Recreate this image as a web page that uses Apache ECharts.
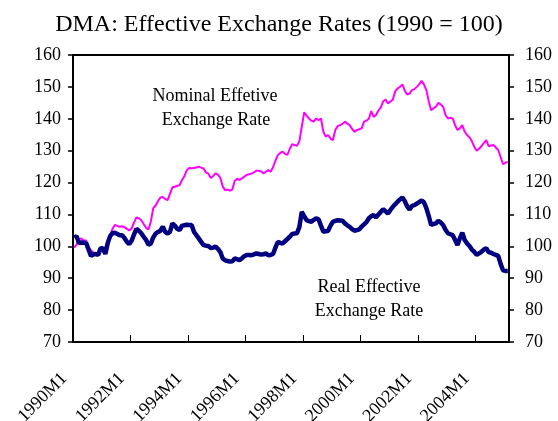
<!DOCTYPE html>
<html>
<head>
<meta charset="utf-8">
<title>DMA: Effective Exchange Rates</title>
<script src="https://cdn.jsdelivr.net/npm/echarts@6/dist/echarts.min.js"></script>
<style>
	html, body { margin: 0; padding: 0; background: #fff; }
	#mychart { width: 558px; height: 421px; }
</style>
</head>
<body>
<div id="mychart"></div>
<script>
// monthly data, 1990M1 .. 2005M2 (1990 = 100)
var startYear = 1990;
var nominalRate = [
	99.6, 100.5, 102.2, 102.5, 101.8, 101.8, 99.5, 98.8, 98.0, 97.6, 97.2, 98.8,
	98.3, 99.8, 102.0, 103.5, 105.5, 106.7, 106.4, 106.1, 106.3, 106.0, 105.5, 105.0,
	105.6, 107.5, 109.1, 108.8, 108.2, 107.0, 105.8, 105.3, 107.8, 112.0, 112.8, 114.2,
	115.3, 115.5, 114.8, 114.5, 116.5, 118.5, 118.7, 119.0, 119.2, 120.8, 122.0, 123.8,
	124.6, 124.5, 124.6, 124.7, 125.0, 124.7, 124.4, 123.2, 122.8, 121.4, 122.0, 122.9,
	122.5, 121.5, 118.8, 117.6, 117.8, 117.5, 117.8, 120.5, 121.2, 120.8, 121.3, 121.8,
	122.4, 122.6, 122.8, 123.2, 123.7, 123.7, 123.5, 122.9, 123.4, 123.9, 123.4, 124.8,
	126.8, 128.6, 129.3, 129.7, 129.0, 128.7, 130.6, 132.0, 131.8, 131.5, 133.0, 137.5,
	142.0, 141.0, 140.1, 139.4, 139.1, 140.1, 139.6, 140.1, 136.0, 134.4, 134.9, 133.8,
	133.3, 136.5, 137.7, 138.0, 138.4, 139.1, 138.5, 138.0, 136.8, 135.9, 136.5, 136.7,
	137.0, 139.1, 139.4, 140.0, 142.4, 140.6, 141.2, 142.6, 143.6, 145.5, 146.0, 144.8,
	145.4, 146.0, 148.6, 149.5, 150.0, 150.8, 148.8, 147.6, 147.9, 149.0, 149.3, 150.0,
	150.8, 151.9, 150.8, 149.0, 145.5, 142.7, 143.3, 143.8, 145.0, 144.5, 143.8, 141.2,
	140.1, 140.3, 140.1, 138.0, 136.5, 137.0, 138.0, 136.0, 134.9, 134.2, 133.0, 131.2,
	130.0, 130.6, 131.4, 132.4, 133.3, 131.4, 131.6, 131.8, 131.0, 130.2, 128.0, 125.8,
	126.2, 126.5
];
var realRate = [
	102.8, 103.2, 101.0, 101.2, 101.1, 101.0, 99.0, 97.0, 97.5, 97.6, 97.3, 99.4,
	99.4, 97.6, 101.0, 103.2, 104.1, 104.3, 103.9, 103.5, 103.5, 102.6, 101.4, 100.7,
	101.8, 103.8, 105.5, 104.9, 104.1, 103.0, 102.0, 100.5, 100.9, 102.8, 104.0, 104.5,
	104.9, 106.2, 104.5, 104.0, 104.6, 107.2, 106.5, 105.5, 105.1, 106.5, 106.6, 106.8,
	106.7, 106.7, 104.6, 103.5, 102.5, 101.4, 100.4, 100.2, 100.1, 99.5, 99.6, 99.9,
	99.2, 98.2, 96.2, 95.6, 95.4, 95.2, 95.3, 96.2, 96.0, 95.7, 96.2, 96.9,
	97.3, 97.3, 97.2, 97.5, 97.8, 97.6, 97.4, 97.5, 97.8, 97.2, 97.3, 97.6,
	99.6, 101.4, 101.1, 100.9, 101.6, 102.3, 103.0, 103.9, 104.0, 104.1, 106.1, 110.8,
	109.5, 108.2, 107.9, 107.7, 108.3, 108.8, 108.5, 106.5, 104.6, 104.7, 104.9, 106.5,
	107.7, 108.0, 108.2, 108.1, 108.0, 107.2, 106.6, 106.1, 105.4, 104.9, 105.1, 105.3,
	106.2, 106.9, 107.6, 108.8, 109.4, 109.8, 109.1, 110.0, 110.8, 111.6, 111.0, 110.3,
	111.4, 112.4, 113.2, 114.0, 114.7, 115.3, 114.2, 112.5, 111.5, 112.7, 112.9, 113.4,
	113.9, 114.4, 113.8, 112.0, 109.5, 106.7, 107.0, 107.2, 108.0, 107.5, 106.7, 105.2,
	104.1, 103.8, 103.5, 102.0, 100.4, 102.5, 104.3, 102.0, 100.9, 100.1, 99.0, 98.3,
	97.3, 97.8, 98.3, 99.0, 99.4, 98.2, 98.0, 97.6, 97.3, 97.0, 94.5, 92.5,
	92.3, 92.3
];
var seriesNames = ['Nominal Effetive Exchange Rate', 'Real Effective Exchange Rate'];
var yTicks = [70, 80, 90, 100, 110, 120, 130, 140, 150, 160];

var months = [];
for (var i = 0; i < nominalRate.length; i++) {
	months.push((startYear + Math.floor(i / 12)) + 'M' + (i % 12 + 1));
}

function loadChart() {
	var mychart = echarts.init(document.getElementById('mychart'), null, { renderer: 'canvas' });
	var serif = "'Liberation Serif', 'Times New Roman', serif";
	var everyTwoYears = function (idx) { return idx % 24 === 0; };

	var yAxisBase = function (pos, margin) {
		return {
			type: 'value',
			position: pos,
			min: yTicks[0],
			max: yTicks[yTicks.length - 1],
			interval: 10,
			axisLine: { show: true, lineStyle: { color: '#000', width: 2 } },
			axisTick: { show: true, inside: false, length: 5, lineStyle: { color: '#000', width: 1.5 } },
			axisLabel: { color: '#000', fontFamily: serif, fontSize: 18, margin: margin },
			splitLine: { show: false }
		};
	};

	var myoption = {
		backgroundColor: '#fff',
		animation: false,
		title: {
			text: 'DMA: Effective Exchange Rates (1990 = 100)',
			left: 'center',
			top: 8,
			textStyle: { color: '#000', fontFamily: serif, fontSize: 24, fontWeight: 'normal' }
		},
		grid: {
			left: 73,
			right: 49,
			top: 55,
			bottom: 79,
			show: true,
			borderColor: '#000',
			borderWidth: 2,
			containLabel: false,
			outerBoundsMode: 'none'
		},
		xAxis: {
			type: 'category',
			data: months,
			boundaryGap: true,
			axisLine: { show: true, lineStyle: { color: '#000', width: 2 } },
			axisTick: { show: true, inside: true, length: 7, interval: everyTwoYears, lineStyle: { color: '#000', width: 1 } },
			axisLabel: {
				interval: everyTwoYears,
				rotate: 45,
				margin: 24,
				padding: [0, 14, 0, 0],
				color: '#000',
				fontFamily: serif,
				fontSize: 18
			},
			splitLine: { show: false }
		},
		yAxis: [yAxisBase('left', 12), yAxisBase('right', 16)],
		graphic: [
			{ type: 'text', x: 215, y: 96, style: { text: 'Nominal Effetive', fill: '#000', font: '18px ' + serif, align: 'center', verticalAlign: 'middle' } },
			{ type: 'text', x: 216, y: 120, style: { text: 'Exchange Rate', fill: '#000', font: '18px ' + serif, align: 'center', verticalAlign: 'middle' } },
			{ type: 'text', x: 369, y: 287, style: { text: 'Real Effective', fill: '#000', font: '18px ' + serif, align: 'center', verticalAlign: 'middle' } },
			{ type: 'text', x: 369, y: 311, style: { text: 'Exchange Rate', fill: '#000', font: '18px ' + serif, align: 'center', verticalAlign: 'middle' } }
		],
		series: [{
			name: seriesNames[0],
			type: 'line',
			data: nominalRate,
			showSymbol: false,
			lineStyle: { color: '#ff00ff', width: 2 },
			itemStyle: { color: '#ff00ff' }
		}, {
			name: seriesNames[1],
			type: 'line',
			data: realRate,
			showSymbol: false,
			lineStyle: { color: '#000080', width: 4.5 },
			itemStyle: { color: '#000080' }
		}]
	};
	mychart.setOption(myoption);
}

loadChart();
</script>
</body>
</html>
